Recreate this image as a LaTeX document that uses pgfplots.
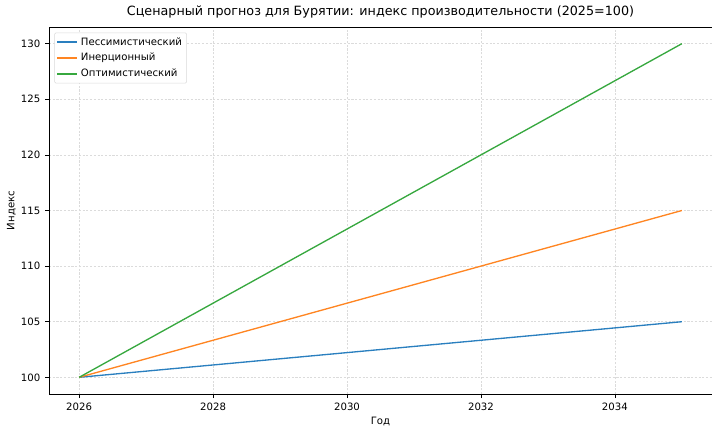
\documentclass[border=0pt]{standalone}
\usepackage{pgfplots}
\pgfplotsset{compat=1.18}
\usepackage{fontspec}
\setmainfont{DejaVu Sans}
\definecolor{c1}{HTML}{2A7FBF}
\definecolor{c2}{HTML}{FF8522}
\definecolor{c3}{HTML}{37A83F}
\begin{document}
\begin{tikzpicture}
\path[use as bounding box] (0pt,0pt) rectangle (534pt,318.75pt);
\begin{axis}[
  at={(36.75pt,23.25pt)}, anchor=south west,
  scale only axis, width=497.25pt, height=275.25pt,
  xmin=2025.55, xmax=2035.45, ymin=98.5, ymax=131.5,
  xtick={2026,2028,...,2034}, ytick={100,105,...,130},
  /pgf/number format/assume math mode=true,
  xticklabel style={/pgf/number format/1000 sep={}},
  ticklabel style={font=\fontsize{7.6}{9}\selectfont},
  tick align=outside, tick style={black, thin},
  xtick pos=bottom, ytick pos=left,
  major tick length=3pt,
  grid=major, grid style={dash pattern=on 1.6pt off 1.2pt, gray!28, line width=0.4pt},
  title={Сценарный прогноз для Бурятии: индекс производительности (2025=100)},
  title style={font=\fontsize{9.55}{11}\selectfont, yshift=-3pt},
  xlabel={Год}, ylabel={Индекс},
  label style={font=\fontsize{7.6}{9}\selectfont},
  xlabel style={yshift=2pt},
  ylabel style={yshift=-3pt},
  legend style={font=\fontsize{7.6}{9}\selectfont, draw=gray!30, rounded corners=1pt, inner sep=1.5pt, row sep=0.5pt, at={(0.008,0.985)}, anchor=north west},
  legend cell align=left,
  legend image code/.code={\draw[#1, line width=1.3pt] (0pt,0pt) -- (15pt,0pt);},
]
\addlegendimage{c1}
\addlegendentry{Пессимистический}
\addlegendimage{c2}
\addlegendentry{Инерционный}
\addlegendimage{c3}
\addlegendentry{Оптимистический}
\addplot[c1, no marks, line width=1pt, forget plot] coordinates {(2026,100) (2027,100.556) (2028,101.111) (2029,101.667) (2030,102.222) (2031,102.778) (2032,103.333) (2033,103.889) (2034,104.444) (2035,105)};
\addplot[c2, no marks, line width=1pt, forget plot] coordinates {(2026,100) (2027,101.667) (2028,103.333) (2029,105) (2030,106.667) (2031,108.333) (2032,110) (2033,111.667) (2034,113.333) (2035,115)};
\addplot[c3, no marks, line width=1pt, forget plot] coordinates {(2026,100) (2027,103.333) (2028,106.667) (2029,110) (2030,113.333) (2031,116.667) (2032,120) (2033,123.333) (2034,126.667) (2035,130)};
\end{axis}
\end{tikzpicture}
\end{document}
